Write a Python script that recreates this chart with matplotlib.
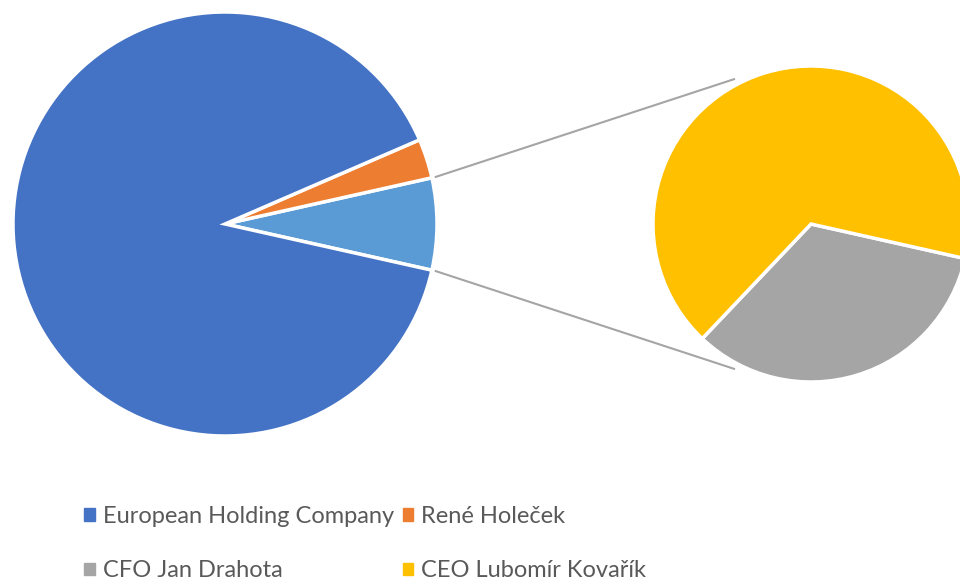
import matplotlib.pyplot as plt
import matplotlib.patches as mpatches
import numpy as np

# shares (%)
main_labels = ["Other", "René Holeček", "European Holding Company"]
main_values = [7.0, 3.0, 90.0]
sub_labels = ["CFO Jan Drahota", "CEO Lubomír Kovařík"]
sub_values = [2.35, 4.65]

main_colors = ["#5B9BD5", "#ED7D31", "#4472C4"]
sub_colors = ["#A5A5A5", "#FFC000"]

W, H = 960, 587
fig = plt.figure(figsize=(9.6, 5.87), dpi=100)
ax = fig.add_axes([0, 0, 1, 1])

main_c, main_r = (225, 363), 212
sub_c, sub_r = (811, 363), 158

other_angle = main_values[0] / sum(main_values) * 360
ax.pie(main_values, colors=main_colors, center=main_c, radius=main_r,
       startangle=-other_angle / 2, counterclock=True, frame=True,
       wedgeprops=dict(edgecolor="white", linewidth=2.5))
ax.pie(sub_values, colors=sub_colors, center=sub_c, radius=sub_r,
       startangle=-133.5, counterclock=True, frame=True,
       wedgeprops=dict(edgecolor="white", linewidth=2.5))
ax.set_xlim(0, W)
ax.set_ylim(0, H)
ax.set_aspect("equal")
ax.axis("off")

# connector lines from the "Other" wedge to the secondary pie
for sign in (1, -1):
    a0 = np.deg2rad(sign * other_angle / 2)
    a1 = np.deg2rad(sign * 118)
    x0 = main_c[0] + (main_r + 4) * np.cos(a0)
    y0 = main_c[1] + (main_r + 4) * np.sin(a0)
    x1 = sub_c[0] + (sub_r + 6) * np.cos(a1)
    y1 = sub_c[1] + (sub_r + 6) * np.sin(a1)
    ax.plot([x0, x1], [y0, y1], color="#A5A5A5", lw=1.5)

handles = [
    mpatches.Patch(color=main_colors[2], label=main_labels[2]),
    mpatches.Patch(color=sub_colors[0], label=sub_labels[0]),
    mpatches.Patch(color=main_colors[1], label=main_labels[1]),
    mpatches.Patch(color=sub_colors[1], label=sub_labels[1]),
]
fig.legend(handles=handles, ncol=2, loc="upper left",
           bbox_to_anchor=(63 / W, 1 - 485 / H), frameon=False,
           prop=dict(family="Lato", size=17), labelcolor="#595959",
           handlelength=0.45, handleheight=0.45, handletextpad=0.35,
           columnspacing=0.35, labelspacing=1.4)

fig.savefig("out.png", dpi=100)
